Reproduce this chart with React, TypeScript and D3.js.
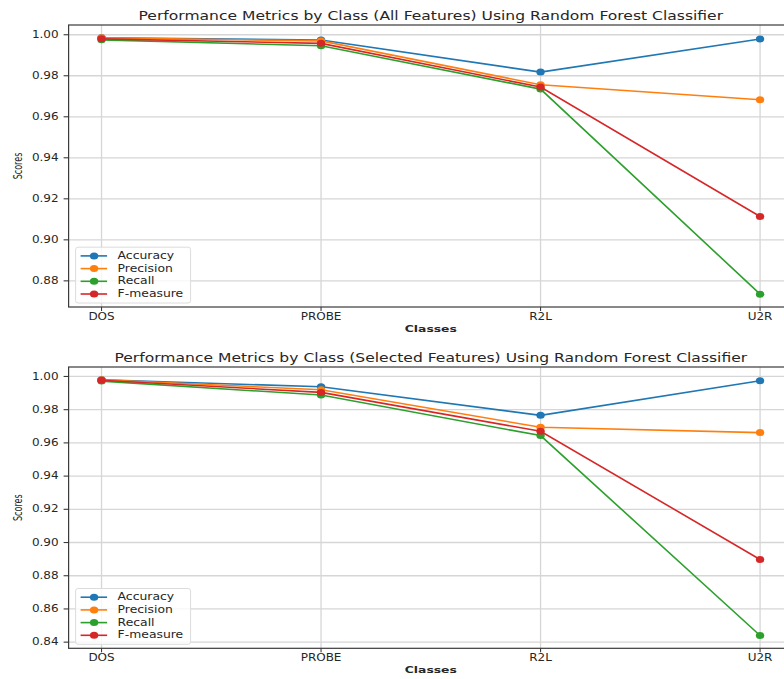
import { useEffect, useRef } from "react";
import * as d3 from "d3";

const classes = ["DOS", "PROBE", "R2L", "U2R"];
const metricNames = ["Accuracy", "Precision", "Recall", "F-measure"];
const metricColors = ["#1f77b4", "#ff7f0e", "#2ca02c", "#d62728"];

// all features
const allAccuracy = [0.9985, 0.9974, 0.9818, 0.9979];
const allPrecision = [0.9985, 0.997, 0.9756, 0.9683];
const allRecall = [0.9975, 0.9946, 0.9735, 0.8735];
const allFmeasure = [0.998, 0.9958, 0.9745, 0.9114];

// selected features
const selAccuracy = [0.998, 0.9938, 0.9766, 0.9974];
const selPrecision = [0.998, 0.992, 0.9694, 0.9662];
const selRecall = [0.9972, 0.9888, 0.9644, 0.844];
const selFmeasure = [0.9977, 0.9904, 0.967, 0.8898];

const topTicks = [0.88, 0.9, 0.92, 0.94, 0.96, 0.98, 1.0];
const bottomTicks = [0.84, 0.86, 0.88, 0.9, 0.92, 0.94, 0.96, 0.98, 1.0];

const width = 784;
const height = 679;
const SX = 1.2; // horizontal stretch of the original picture

const App = () => {
  const svgRef = useRef<SVGSVGElement>(null);

  useEffect(() => {
    if (!svgRef.current) return;
    const svg = d3.select(svgRef.current);
    svg.selectAll("*").remove();

    const addText = (
      parent: d3.Selection<SVGGElement, unknown, null, undefined>,
      x: number,
      y: number,
      txt: string,
      opts: { size: number; anchor?: string; weight?: string; sx?: number; rotate?: boolean; color?: string }
    ) => {
      const sx = opts.sx ?? SX;
      const tf = opts.rotate
        ? `translate(${x},${y}) rotate(-90) scale(${sx},1)`
        : `translate(${x},${y}) scale(${sx},1)`;
      parent
        .append("text")
        .attr("transform", tf)
        .attr("text-anchor", opts.anchor ?? "start")
        .attr("dominant-baseline", "central")
        .style("font-family", "DejaVu Sans, sans-serif")
        .style("font-size", `${opts.size}px`)
        .style("font-weight", opts.weight ?? "normal")
        .style("fill", opts.color ?? "#262626")
        .text(txt);
    };

    const drawPanel = (
      top: number,
      bottom: number,
      title: string,
      series: number[][],
      ticks: number[]
    ) => {
      const left = 68.6;
      const right = 793;
      const g = svg.append("g");

      const all = series.flat();
      const lo = d3.min(all)!;
      const hi = d3.max(all)!;
      const pad = (hi - lo) * 0.05;

      const x = d3.scaleLinear().domain([-0.15, classes.length - 1 + 0.15]).range([left, right]);
      const y = d3.scaleLinear().domain([lo - pad, hi + pad]).range([bottom, top]);

      // grid
      g.selectAll(".hgrid")
        .data(ticks)
        .join("line")
        .attr("x1", left)
        .attr("x2", right)
        .attr("y1", (d) => y(d))
        .attr("y2", (d) => y(d))
        .attr("stroke", "#d6d6d6")
        .attr("stroke-width", 1.3);
      g.selectAll(".vgrid")
        .data(classes)
        .join("line")
        .attr("x1", (_, i) => x(i))
        .attr("x2", (_, i) => x(i))
        .attr("y1", top)
        .attr("y2", bottom)
        .attr("stroke", "#d6d6d6")
        .attr("stroke-width", 1.3);

      // spines
      g.append("rect")
        .attr("x", left)
        .attr("y", top)
        .attr("width", right - left)
        .attr("height", bottom - top)
        .attr("fill", "none")
        .attr("stroke", "#3a3a3a")
        .attr("stroke-width", 1.2);

      // y ticks
      ticks.forEach((t) => {
        g.append("line")
          .attr("x1", left - 5)
          .attr("x2", left)
          .attr("y1", y(t))
          .attr("y2", y(t))
          .attr("stroke", "#3a3a3a")
          .attr("stroke-width", 1.1);
        addText(g, left - 10, y(t), t.toFixed(2), { size: 10, anchor: "end" });
      });

      // x ticks
      classes.forEach((c, i) => {
        g.append("line")
          .attr("x1", x(i))
          .attr("x2", x(i))
          .attr("y1", bottom)
          .attr("y2", bottom + 4)
          .attr("stroke", "#3a3a3a")
          .attr("stroke-width", 1.1);
        addText(g, x(i), bottom + 10, c, { size: 10, anchor: "middle" });
      });

      // labels
      addText(g, (left + right) / 2, bottom + 22, "Classes", { size: 9.5, anchor: "middle", weight: "bold", sx: 1.3 });
      addText(g, 18, (top + bottom) / 2, "Scores", { size: 13, anchor: "middle", rotate: true, sx: 0.62 });
      addText(g, (left + right) / 2, top - 9, title, { size: 12.5, anchor: "middle", sx: 1.245 });

      // lines and markers
      const line = d3
        .line<number>()
        .x((_, i) => x(i))
        .y((d) => y(d));

      series.forEach((vals, k) => {
        g.append("path")
          .attr("d", line(vals))
          .attr("fill", "none")
          .attr("stroke", metricColors[k])
          .attr("stroke-width", 1.6);
        g.selectAll(`.m${k}`)
          .data(vals)
          .join("ellipse")
          .attr("cx", (_, i) => x(i))
          .attr("cy", (d) => y(d))
          .attr("rx", 4.2)
          .attr("ry", 3.5)
          .attr("fill", metricColors[k]);
      });

      // legend
      const lx = left + 7;
      const lyBottom = bottom - 4;
      const rowH = 12.7;
      const lh = rowH * 4 + 5;
      const legend = g.append("g");
      legend
        .append("rect")
        .attr("x", lx)
        .attr("y", lyBottom - lh)
        .attr("width", 115)
        .attr("height", lh)
        .attr("rx", 2.5)
        .attr("fill", "white")
        .attr("fill-opacity", 0.8)
        .attr("stroke", "#dcdcdc")
        .attr("stroke-width", 1);
      metricNames.forEach((name, k) => {
        const ry = lyBottom - lh + 8.7 + k * rowH;
        legend
          .append("line")
          .attr("x1", lx + 5)
          .attr("x2", lx + 31.5)
          .attr("y1", ry)
          .attr("y2", ry)
          .attr("stroke", metricColors[k])
          .attr("stroke-width", 1.6);
        legend
          .append("ellipse")
          .attr("cx", lx + 18.5)
          .attr("cy", ry)
          .attr("rx", 4.2)
          .attr("ry", 3.5)
          .attr("fill", metricColors[k]);
        addText(legend, lx + 42, ry, name, { size: 10, sx: 1.24 });
      });
    };

    drawPanel(
      25,
      307,
      "Performance Metrics by Class (All Features) Using Random Forest Classifier",
      [allAccuracy, allPrecision, allRecall, allFmeasure],
      topTicks
    );
    drawPanel(
      367,
      648.3,
      "Performance Metrics by Class (Selected Features) Using Random Forest Classifier",
      [selAccuracy, selPrecision, selRecall, selFmeasure],
      bottomTicks
    );
  }, []);

  return (
    <div style={{ position: "absolute", left: 0, top: 0, width, height, background: "white", overflow: "hidden" }}>
      <svg ref={svgRef} width={width} height={height} style={{ display: "block" }}></svg>
    </div>
  );
};

export default App;
